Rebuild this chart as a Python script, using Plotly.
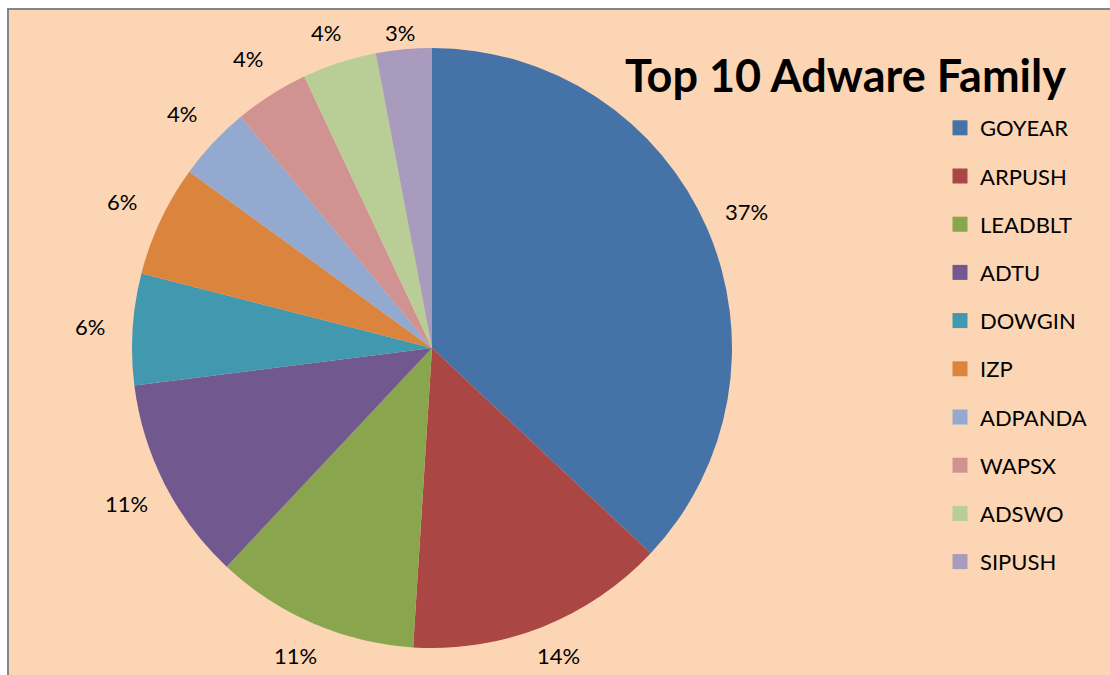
import math
import plotly.graph_objects as go

labels = ["GOYEAR", "ARPUSH", "LEADBLT", "ADTU", "DOWGIN", "IZP", "ADPANDA", "WAPSX", "ADSWO", "SIPUSH"]
values = [37, 14, 11, 11, 6, 6, 4, 4, 4, 3]
colors = ["#4572A7", "#AA4643", "#89A54E", "#71588F", "#4198AF",
          "#DB843D", "#93A9CF", "#D19392", "#B9CD96", "#A99BBD"]
title_text = "Top 10 Adware Family"

W, H = 1110, 675
FONT = "Lato"
cx, cy, R = 432, 348, 300  # pie centre / radius in px

fig = go.Figure()
fig.add_trace(go.Pie(
    labels=labels, values=values, sort=False, direction="clockwise", rotation=0,
    marker=dict(colors=colors, line=dict(width=0)),
    textinfo="none", showlegend=False, hoverinfo="label+percent",
    domain=dict(x=[(cx - R) / W, (cx + R) / W], y=[(H - cy - R) / H, (H - cy + R) / H]),
))

# legend entries (one group each so spacing can be controlled)
for lab, col in zip(labels, colors):
    fig.add_trace(go.Scatter(x=[None], y=[None], mode="markers", name=lab,
                             legendgroup=lab,
                             marker=dict(symbol="square", size=15, color=col)))

# percentage labels placed outside each slice (kept inside the chart area)
total = sum(values)
annotations = []
cum = 0
for v in values:
    mid = (cum + v / 2) / total * 2 * math.pi
    cum += v
    rl = R + 43
    px = cx + rl * math.sin(mid)
    py = cy - rl * math.cos(mid)
    py = min(max(py, 33), 655)
    annotations.append(dict(x=px / W, y=1 - py / H, xref="paper", yref="paper",
                            text=f"{round(v / total * 100)}%", showarrow=False,
                            font=dict(family=FONT, size=22, color="#000000"),
                            xanchor="center", yanchor="middle"))

annotations.append(dict(x=845 / W, y=1 - 75 / H, xref="paper", yref="paper",
                        text=f"<b>{title_text}</b>", showarrow=False,
                        font=dict(family=FONT, size=45, color="#000000"),
                        xanchor="center", yanchor="middle"))

fig.update_layout(
    width=W, height=H,
    margin=dict(l=0, r=0, t=0, b=0),
    paper_bgcolor="#FFFFFF",
    plot_bgcolor="rgba(0,0,0,0)",
    xaxis=dict(visible=False), yaxis=dict(visible=False),
    annotations=annotations,
    shapes=[dict(type="rect", xref="paper", yref="paper",
                 x0=8 / W, x1=1.05, y0=-0.05, y1=1 - 9 / H,
                 fillcolor="#FBD5B4", line=dict(color="#868686", width=2),
                 layer="below")],
    legend=dict(x=940 / W, xanchor="left", y=1 - 107 / H, yanchor="top",
                bgcolor="rgba(0,0,0,0)", font=dict(family=FONT, size=22, color="#000000"),
                tracegroupgap=16.6, itemclick=False),
)

fig.write_html("out.html")
